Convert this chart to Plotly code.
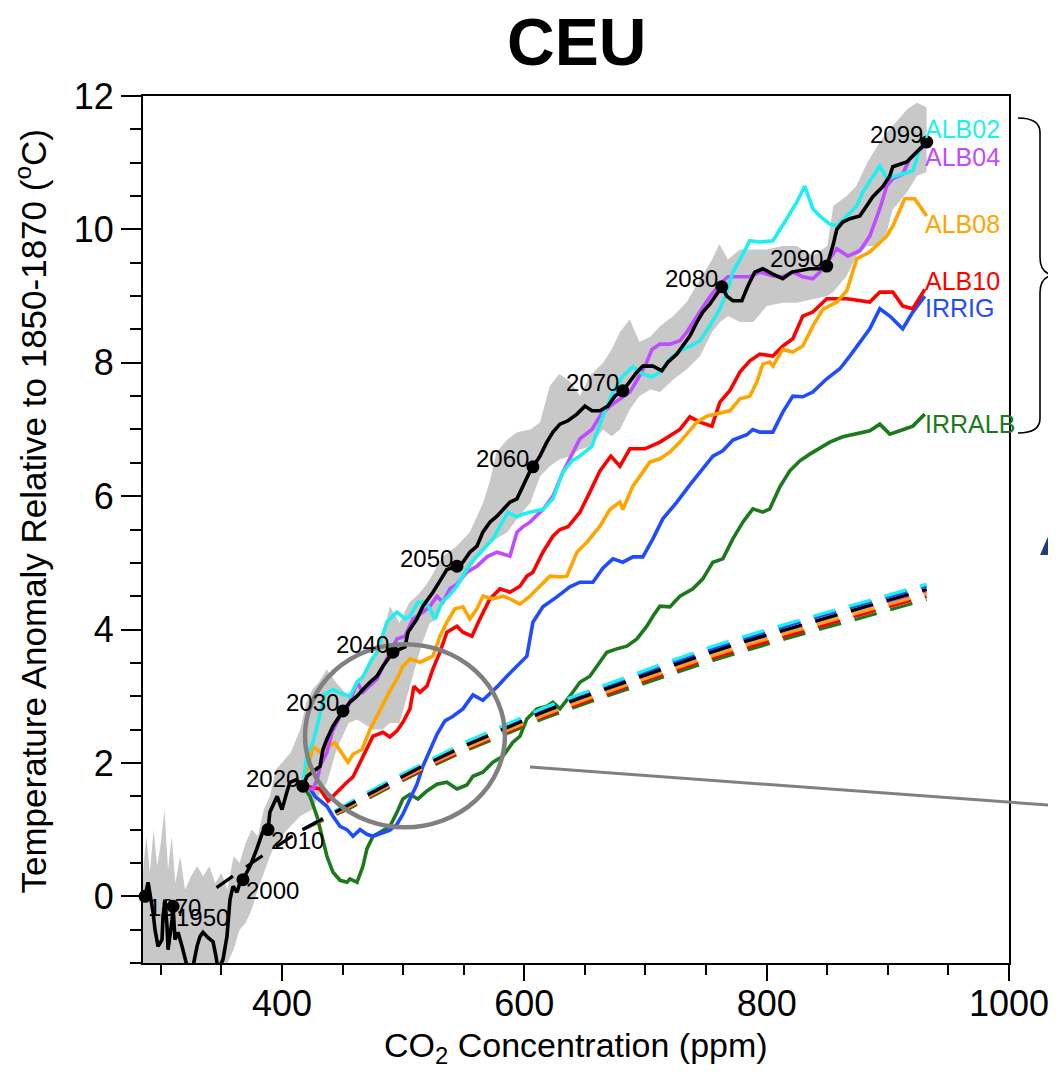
import plotly.graph_objects as go

# ---------------- data ----------------
# black: historical + RCP8.5 ensemble mean (CO2 ppm, temperature anomaly)
BLACK_CO2 = [287.0, 289.5, 293.6, 295.2, 297.7, 301.0, 301.8, 303.5, 305.1, 306.0, 309.3, 310.1, 311.7,
             314.2, 317.5, 320.0, 322.4, 326.6, 329.9, 332.4, 334.8, 339.0, 343.1, 345.5, 347.2, 351.3,
             354.6, 357.1, 359.6, 362.9, 365.4, 367.8, 373.6, 379.0, 384.0, 388.5, 390.0, 396.0, 400.0,
             404.0, 406.6, 412.0, 417.3, 420.6, 431.4, 433.8, 437.1, 442.1, 450.3, 456.1, 461.9, 466.8,
             472.6, 478.4, 483.3, 491.6, 501.5, 504.0, 511.4, 516.3, 524.6, 530.4, 536.1, 544.4, 549.3,
             555.1, 560.9, 565.8, 571.6, 577.4, 582.3, 588.1, 593.9, 596.4, 600.5, 604.6, 607.1, 612.9,
             618.6, 623.6, 629.4, 636.0, 643.4, 650.0, 655.8, 662.4, 669.0, 674.7, 681.3, 687.1, 692.9,
             697.8, 706.1, 713.5, 718.5, 725.9, 730.8, 736.6, 742.4, 747.3, 753.1, 758.9, 763.0, 767.1,
             772.1, 779.5, 784.5, 790.2, 796.8, 805.1, 813.3, 820.8, 827.4, 835.6, 843.9, 849.6, 854.6,
             857.9, 862.8, 868.6, 876.9, 882.6, 887.6, 895.8, 901.6, 904.1, 911.5, 915.6, 920.6, 926.4, 932.1]
BLACK_T = [0.00, 0.21, -0.24, -0.50, -0.75, -0.65, -0.30, -0.05, -0.45, -0.80, -0.35, -0.15, -0.65,
           -0.54, -0.75, -0.95, -1.10, -1.05, -0.75, -0.60, -0.54, -0.62, -0.68, -0.90, -1.10, -0.95,
           -0.60, -0.05, 0.15, 0.06, 0.21, 0.25, 0.45, 0.70, 0.96, 1.00, 1.26, 1.50, 1.30,
           1.56, 1.71, 1.75, 1.65, 1.80, 1.95, 2.20, 2.36, 2.55, 2.78, 2.91, 3.00, 3.10,
           3.21, 3.30, 3.45, 3.66, 3.74, 3.96, 4.16, 4.35, 4.56, 4.73, 4.90, 4.95, 5.01,
           5.16, 5.25, 5.46, 5.61, 5.70, 5.80, 5.91, 5.96, 6.06, 6.21, 6.37, 6.44, 6.60,
           6.81, 6.96, 7.08, 7.13, 7.23, 7.35, 7.28, 7.28, 7.35, 7.50, 7.58, 7.73, 7.86,
           7.95, 7.95, 7.88, 8.01, 8.13, 8.25, 8.40, 8.61, 8.76, 8.88, 9.03, 9.14, 9.00,
           8.93, 8.93, 9.15, 9.36, 9.41, 9.33, 9.26, 9.36, 9.38, 9.41, 9.41, 9.45, 9.75,
           10.00, 10.11, 10.16, 10.20, 10.35, 10.49, 10.64, 10.80, 10.94, 10.98, 11.01, 11.10, 11.21, 11.31]

# spread band around the black curve
BAND_CO2 = [285, 288, 291, 294, 297, 300, 303, 306, 309, 312, 316, 320, 325, 330, 335, 340, 345, 350,
            355, 360, 365, 370, 375, 380, 385, 390, 395, 400, 407, 415, 420, 425, 430, 437, 445, 455,
            462, 475, 483, 489, 497, 505, 511, 516, 522, 528, 533, 544, 555, 566, 572, 577, 586, 594,
            605, 613, 621, 629, 638, 646, 654, 665, 672, 679, 687, 695, 704, 712, 723, 734, 745, 755,
            761, 768, 778, 789, 800, 813, 825, 838, 850, 855, 866, 874, 883, 893, 899, 904, 916, 924, 932]
BAND_LO = [-1.3, -1.3, -1.3, -1.3, -1.3, -1.3, -1.3, -1.3, -1.3, -1.3, -1.3, -1.3, -1.3, -1.3, -1.3,
           -1.3, -1.3, -1.2, -1.0, -0.8, -0.5, -0.4, -0.2, 0.1, 0.35, 0.6, 0.8, 0.9, 1.05, 1.2, 1.25,
           1.3, 1.5, 1.7, 2.2, 2.6, 2.65, 2.5, 2.5, 2.6, 2.6, 3.1, 3.5, 3.81, 4.1, 4.15, 4.4, 4.6,
           4.9, 5.2, 5.3, 5.36, 5.46, 5.66, 5.9, 6.3, 6.45, 6.55, 6.6, 6.7, 6.75, 7.0, 6.9, 7.0, 7.3,
           7.5, 7.6, 7.56, 7.75, 7.9, 8.1, 8.46, 8.6, 8.7, 8.61, 8.61, 8.85, 8.9, 8.9, 8.95, 9.0,
           9.06, 9.3, 9.6, 9.75, 9.75, 9.96, 10.3, 10.56, 10.8, 10.86]
BAND_HI = [0.3, 0.9, 0.35, 1.0, 0.45, 0.8, 1.3, 0.4, 0.9, 0.2, 0.6, 0.1, 0.3, 0.45, 0.3, 0.45, 0.2,
           0.35, 0.1, 0.6, 0.5, 0.8, 1.0, 0.9, 1.3, 1.5, 1.9, 2.0, 2.15, 2.5, 2.9, 3.1, 3.2, 3.4, 3.2,
           3.0, 3.2, 3.6, 3.9, 4.35, 4.1, 4.4, 4.5, 4.6, 4.75, 4.95, 5.1, 5.25, 5.46, 5.9, 6.25, 6.66,
           6.85, 6.96, 7.0, 7.11, 7.65, 7.83, 7.71, 7.5, 7.8, 8.0, 8.2, 8.46, 8.65, 8.31, 8.39, 8.55,
           8.7, 8.91, 9.25, 9.55, 9.78, 9.55, 9.7, 9.7, 9.7, 9.75, 9.75, 9.6, 9.75, 10.35, 10.5, 10.65,
           11.0, 11.3, 11.45, 11.55, 11.8, 11.9, 11.83]

ALB02_CO2 = [417.3, 420.6, 425.6, 431.4, 435.5, 442.1, 450.3, 456.1, 461.9, 466.8, 474.3, 478.4, 486.6,
             489.1, 494.9, 501.5, 505.6, 512.2, 518.0, 522.1, 526.2, 532.0, 537.0, 544.4, 549.3, 555.1,
             560.9, 569.1, 574.1, 579.9, 586.5, 593.9, 598.8, 604.6, 615.3, 623.6, 631.8, 639.3, 645.9,
             655.8, 664.8, 673.1, 681.3, 689.6, 697.8, 705.3, 711.9, 720.1, 728.4, 736.6, 744.9, 753.1,
             761.4, 767.1, 772.1, 779.5, 786.1, 794.4, 805.1, 816.6, 824.9, 831.5, 838.1, 843.9, 852.1,
             857.9, 866.1, 874.4, 879.3, 887.6, 893.4, 899.1, 904.1, 915.6, 920.6, 923.9, 926.4, 930.5]
ALB02_T = [1.65, 2.13, 2.31, 2.76, 3.03, 3.10, 3.03, 3.00, 3.21, 3.29, 3.56, 3.66, 4.11,
           4.16, 4.26, 4.16, 4.20, 4.41, 4.41, 4.31, 4.16, 4.41, 4.49, 4.65, 4.80, 4.98,
           5.10, 5.25, 5.36, 5.55, 5.76, 5.69, 5.73, 5.76, 5.80, 5.96, 6.36, 6.53, 6.60,
           6.75, 7.20, 7.56, 7.80, 7.94, 7.83, 7.79, 7.86, 8.06, 8.18, 8.25, 8.33, 8.55,
           8.81, 9.06, 9.36, 9.60, 9.83, 9.81, 9.83, 10.16, 10.41, 10.65, 10.31, 10.20, 10.08,
           10.05, 10.20, 10.35, 10.56, 10.80, 10.95, 10.76, 10.79, 10.86, 10.88, 11.06, 11.21, 11.31]

ALB04_CO2 = [417.3, 425.6, 429.7, 431.4, 437.1, 441.3, 447.9, 453.6, 457.8, 461.9, 466.8, 478.4, 489.1,
             494.9, 501.5, 508.1, 516.3, 522.1, 527.9, 532.8, 538.6, 544.4, 552.6, 560.9, 569.1, 577.4,
             588.1, 593.9, 598.8, 604.6, 615.3, 623.6, 631.8, 640.1, 645.9, 655.8, 662.4, 670.6, 678.9,
             687.1, 693.7, 701.1, 705.3, 711.9, 720.1, 728.4, 734.1, 739.1, 746.5, 753.1, 761.4, 768.0,
             777.9, 786.1, 794.4, 805.1, 813.3, 821.6, 829.8, 838.1, 843.9, 852.1, 857.9, 867.0, 876.9,
             885.1, 893.4, 899.1, 904.1, 912.3, 918.1, 923.9, 930.5]
ALB04_T = [1.65, 1.60, 1.80, 1.95, 2.16, 2.46, 2.70, 2.80, 3.00, 3.21, 3.06, 3.26, 3.66,
           3.86, 3.90, 4.16, 4.26, 4.35, 4.50, 4.41, 4.61, 4.68, 4.86, 4.95, 5.09, 5.16,
           5.10, 5.46, 5.54, 5.61, 5.80, 6.00, 6.36, 6.66, 6.86, 7.00, 7.20, 7.35, 7.46,
           7.56, 7.76, 8.01, 8.20, 8.28, 8.28, 8.33, 8.46, 8.61, 8.81, 8.99, 9.18, 9.29,
           9.29, 9.29, 9.36, 9.30, 9.29, 9.36, 9.29, 9.26, 9.36, 9.56, 9.71, 9.60, 9.68,
           9.90, 10.31, 10.65, 10.76, 10.83, 11.06, 11.16, 11.25]

ALB08_CO2 = [417.3, 425.6, 431.4, 437.1, 443.7, 450.3, 454.5, 458.6, 466.0, 472.6, 480.9, 489.1, 494.9,
             499.8, 505.6, 513.9, 524.6, 530.4, 536.1, 542.7, 549.3, 555.1, 560.9, 565.8, 574.1, 582.3,
             588.1, 596.4, 604.6, 612.9, 621.1, 629.4, 635.1, 643.4, 651.6, 662.4, 670.6, 678.9, 681.3,
             689.6, 695.4, 703.6, 711.9, 720.1, 728.4, 736.6, 742.4, 750.6, 758.9, 769.6, 777.9, 786.1,
             791.9, 796.8, 802.6, 805.1, 813.3, 821.6, 829.8, 838.1, 846.3, 857.9, 866.1, 874.4, 885.1,
             893.4, 899.1, 904.1, 909.9, 914.0, 922.2, 926.4, 932.1]
ALB08_T = [1.65, 2.25, 2.16, 2.24, 2.30, 2.13, 2.01, 2.13, 2.20, 2.50, 2.80, 3.08, 3.26,
           3.45, 3.56, 3.51, 3.60, 3.90, 4.11, 4.31, 4.34, 4.16, 4.31, 4.50, 4.46, 4.50,
           4.46, 4.38, 4.50, 4.65, 4.80, 4.79, 4.80, 5.16, 5.31, 5.55, 5.80, 5.91, 5.80,
           6.15, 6.29, 6.51, 6.56, 6.66, 6.81, 6.98, 7.11, 7.20, 7.23, 7.28, 7.46, 7.50,
           7.71, 7.98, 8.01, 7.95, 8.20, 8.16, 8.25, 8.55, 8.80, 8.91, 9.08, 9.56, 9.66,
           9.81, 9.90, 10.05, 10.30, 10.46, 10.46, 10.35, 10.20]

ALB10_CO2 = [417.3, 423.1, 431.4, 438.0, 442.1, 447.9, 453.6, 458.6, 464.4, 470.1, 475.1, 483.3, 489.1,
             494.9, 499.8, 505.6, 508.9, 513.9, 519.6, 524.6, 530.4, 536.1, 544.4, 549.3, 556.8, 563.4,
             571.6, 579.9, 588.1, 596.4, 602.1, 607.1, 615.3, 623.6, 629.4, 636.0, 645.9, 654.1, 662.4,
             671.4, 678.9, 687.1, 699.5, 711.9, 720.1, 728.4, 736.6, 744.9, 754.8, 761.4, 769.6, 777.9,
             786.1, 794.4, 805.1, 813.3, 821.6, 829.8, 838.1, 849.6, 866.1, 885.1, 893.4, 904.1, 912.3,
             920.6, 930.5]
ALB10_T = [1.65, 1.64, 1.61, 1.43, 1.50, 1.61, 1.71, 1.79, 2.01, 2.21, 2.40, 2.46, 2.39,
           2.48, 2.61, 2.81, 3.15, 3.06, 3.15, 3.41, 3.66, 3.96, 4.05, 3.96, 3.90, 4.16,
           4.46, 4.61, 4.56, 4.65, 4.80, 4.86, 5.16, 5.40, 5.50, 5.54, 5.76, 6.06, 6.38,
           6.60, 6.45, 6.71, 6.71, 6.81, 6.90, 7.00, 7.19, 7.11, 7.05, 7.41, 7.58, 7.86,
           8.03, 8.13, 8.10, 8.25, 8.36, 8.70, 8.76, 8.96, 8.96, 8.91, 9.06, 9.06, 8.85,
           8.81, 9.10]

IRRIG_CO2 = [417.3, 423.1, 427.2, 433.0, 437.1, 442.1, 447.9, 453.6, 458.6, 464.4, 470.1, 475.1, 483.3,
             489.1, 494.9, 499.8, 505.6, 511.4, 516.3, 522.1, 527.9, 534.5, 541.1, 549.3, 557.6, 565.8,
             573.3, 577.4, 585.6, 593.9, 602.1, 607.1, 615.3, 626.9, 637.6, 645.9, 656.6, 664.8, 673.1,
             681.3, 689.6, 697.8, 706.1, 714.3, 725.9, 736.6, 747.3, 755.6, 763.8, 772.1, 783.6, 788.6,
             794.4, 805.1, 813.3, 821.6, 829.8, 838.1, 849.6, 860.4, 868.6, 876.9, 885.1, 893.4, 901.6,
             912.3, 920.6, 930.5]
IRRIG_T = [1.65, 1.62, 1.50, 1.41, 1.35, 1.20, 1.05, 1.00, 0.90, 1.00, 0.93, 0.90, 0.96,
           0.99, 1.08, 1.23, 1.46, 1.68, 1.95, 2.18, 2.43, 2.63, 2.70, 2.81, 3.02, 2.94,
           3.06, 3.14, 3.30, 3.45, 3.60, 4.11, 4.34, 4.49, 4.64, 4.71, 4.71, 4.92, 5.06,
           5.01, 5.09, 5.09, 5.36, 5.66, 5.91, 6.17, 6.42, 6.60, 6.68, 6.84, 6.92, 7.00,
           6.96, 6.96, 7.26, 7.50, 7.49, 7.56, 7.76, 7.91, 8.10, 8.31, 8.51, 8.81, 8.70,
           8.51, 8.76, 9.00]

IRRALB_CO2 = [417.3, 423.1, 428.9, 433.8, 437.1, 442.1, 447.9, 453.6, 456.1, 461.9, 466.8, 470.1, 475.1,
              480.9, 489.1, 494.9, 499.8, 505.6, 512.2, 519.6, 527.9, 536.1, 544.4, 552.6, 557.6, 565.8,
              574.1, 582.3, 590.6, 596.4, 602.1, 610.4, 618.6, 623.6, 629.4, 637.6, 645.9, 654.1, 662.4,
              668.1, 676.4, 684.6, 692.9, 701.1, 706.1, 711.9, 720.1, 728.4, 739.1, 747.3, 755.6, 763.8,
              772.1, 780.3, 788.6, 796.8, 802.6, 810.9, 819.1, 827.4, 835.6, 843.9, 852.1, 862.8, 874.4,
              885.1, 893.4, 901.6, 909.9, 920.6, 930.5]
IRRALB_T = [1.65, 1.50, 1.20, 0.86, 0.60, 0.36, 0.24, 0.21, 0.26, 0.21, 0.45, 0.71, 0.90,
            0.96, 1.05, 1.26, 1.46, 1.53, 1.46, 1.58, 1.68, 1.71, 1.61, 1.67, 1.80, 1.86,
            2.01, 2.10, 2.31, 2.40, 2.66, 2.81, 2.85, 2.91, 2.81, 3.00, 3.21, 3.30, 3.51,
            3.66, 3.71, 3.75, 3.86, 4.05, 4.20, 4.35, 4.34, 4.50, 4.61, 4.76, 5.01, 5.06,
            5.36, 5.61, 5.81, 5.76, 5.81, 6.14, 6.38, 6.53, 6.63, 6.72, 6.81, 6.89, 6.93,
            6.98, 7.08, 6.93, 6.98, 7.05, 7.23]

# dashed fits
BLACK_FIT_CO2 = [346, 375, 404, 417, 456, 487, 520, 551, 582, 615, 647, 681, 718, 749, 782, 827, 877, 932]
BLACK_FIT_T = [0.13, 0.50, 0.85, 1.00, 1.38, 1.68, 1.99, 2.26, 2.50, 2.76, 2.98, 3.20, 3.44, 3.63, 3.82,
               4.06, 4.32, 4.60]
FIT_CO2 = [417, 456, 487, 520, 551, 582, 615, 647, 681, 718, 749, 782, 827, 877, 932]
FIT_ALB02 = [1.00, 1.41, 1.72, 2.03, 2.31, 2.55, 2.82, 3.04, 3.27, 3.51, 3.71, 3.90, 4.14, 4.40, 4.68]
FIT_IRRIG = [1.00, 1.39, 1.70, 2.01, 2.28, 2.53, 2.79, 3.01, 3.24, 3.48, 3.67, 3.86, 4.11, 4.37, 4.65]
FIT_ALB04 = [1.00, 1.37, 1.67, 1.98, 2.25, 2.49, 2.75, 2.97, 3.19, 3.43, 3.62, 3.81, 4.05, 4.31, 4.58]
FIT_ALB08 = [1.00, 1.35, 1.65, 1.96, 2.22, 2.46, 2.71, 2.93, 3.15, 3.38, 3.57, 3.76, 4.00, 4.26, 4.54]
FIT_ALB10 = [1.00, 1.34, 1.64, 1.94, 2.20, 2.44, 2.69, 2.90, 3.12, 3.35, 3.54, 3.72, 3.96, 4.22, 4.50]
FIT_IRRALB = [1.00, 1.32, 1.62, 1.92, 2.18, 2.41, 2.66, 2.87, 3.08, 3.31, 3.50, 3.68, 3.92, 4.17, 4.45]

# year markers on the black curve
YEARS = ["1870", "1950", "2000", "2010", "2020", "2030", "2040", "2050", "2060", "2070", "2080", "2090", "2099"]
YEAR_CO2 = [287.0, 310.1, 367.8, 388.5, 417.3, 450.3, 491.6, 544.4, 607.1, 681.3, 763.0, 849.6, 932.1]
YEAR_T = [0.00, -0.15, 0.25, 1.00, 1.65, 2.78, 3.66, 4.95, 6.44, 7.58, 9.14, 9.45, 11.31]

SERIES = ["ALB02", "ALB04", "ALB08", "ALB10", "IRRIG", "IRRALB"]
COLORS = ["#1ef0f0", "#bf4dff", "#ffa500", "#ff0000", "#1f4cff", "#1c7a1c"]
LABEL_T = [11.50, 11.09, 10.08, 9.22, 8.82, 7.08]
X_TICKS = [400, 600, 800, 1000]
Y_TICKS = [0, 2, 4, 6, 8, 10, 12]

FONT = "Liberation Sans, Arial, Helvetica, sans-serif"

solid = {
    "ALB02": (ALB02_CO2, ALB02_T), "ALB04": (ALB04_CO2, ALB04_T), "ALB08": (ALB08_CO2, ALB08_T),
    "ALB10": (ALB10_CO2, ALB10_T), "IRRIG": (IRRIG_CO2, IRRIG_T), "IRRALB": (IRRALB_CO2, IRRALB_T),
}
fits = {"ALB02": FIT_ALB02, "ALB04": FIT_ALB04, "ALB08": FIT_ALB08, "ALB10": FIT_ALB10,
        "IRRIG": FIT_IRRIG, "IRRALB": FIT_IRRALB}
color_of = dict(zip(SERIES, COLORS))

fig = go.Figure()

# grey spread band
fig.add_trace(go.Scatter(x=BAND_CO2 + BAND_CO2[::-1], y=BAND_HI + BAND_LO[::-1], fill="toself",
                         fillcolor="#c8c8c8", line=dict(width=0), mode="lines", hoverinfo="skip"))

# coloured solid lines
for name in ["IRRALB", "IRRIG", "ALB10", "ALB08", "ALB04", "ALB02"]:
    xs, ys = solid[name]
    fig.add_trace(go.Scatter(x=xs, y=ys, mode="lines", line=dict(color=color_of[name], width=3.6)))

# dashed fits
DASH = "23px,14px"
for name in ["IRRALB", "ALB10", "ALB08", "ALB04", "IRRIG", "ALB02"]:
    fig.add_trace(go.Scatter(x=FIT_CO2, y=fits[name], mode="lines",
                             line=dict(color=color_of[name], width=3.2, dash=DASH)))
split = BLACK_FIT_CO2.index(417)
fig.add_trace(go.Scatter(x=BLACK_FIT_CO2[:split + 1], y=BLACK_FIT_T[:split + 1], mode="lines",
                         line=dict(color="black", width=3.2, dash="20px,16px")))
fig.add_trace(go.Scatter(x=BLACK_FIT_CO2[split:], y=BLACK_FIT_T[split:], mode="lines",
                         line=dict(color="black", width=3.2, dash=DASH)))

# black mean curve
fig.add_trace(go.Scatter(x=BLACK_CO2, y=BLACK_T, mode="lines", line=dict(color="black", width=3.6)))

# year markers
fig.add_trace(go.Scatter(x=YEAR_CO2, y=YEAR_T, mode="markers", cliponaxis=False,
                         marker=dict(color="black", size=13)))

annotations = []
for yr, xv, yv in zip(YEARS, YEAR_CO2, YEAR_T):
    if int(yr) <= 2010:
        annotations.append(dict(x=xv, y=yv, xref="x", yref="y", text=yr, showarrow=False,
                                xanchor="left", yanchor="middle", xshift=1, yshift=-11,
                                font=dict(size=24, color="black", family=FONT)))
    else:
        annotations.append(dict(x=xv, y=yv, xref="x", yref="y", text=yr, showarrow=False,
                                xanchor="right", yanchor="middle", xshift=-2, yshift=8,
                                font=dict(size=24, color="black", family=FONT)))

for name, ly in zip(SERIES, LABEL_T):
    annotations.append(dict(x=932, y=ly, xref="x", yref="y", text=name, showarrow=False,
                            xanchor="left", yanchor="middle", xshift=-4,
                            font=dict(size=25, color=color_of[name], family=FONT)))

# titles
annotations.append(dict(x=0.5, y=1.062, xref="paper", yref="paper", text="<b>CEU</b>", showarrow=False,
                        xanchor="center", yanchor="middle", font=dict(size=66, color="black", family=FONT)))
annotations.append(dict(x=-0.129, y=0.521, xref="paper", yref="paper",
                        text="Temperature Anomaly Relative to 1850-1870 (<sup>o</sup>C)", showarrow=False,
                        textangle=-90, xanchor="center", yanchor="middle",
                        font=dict(size=35, color="black", family=FONT)))
annotations.append(dict(x=0.5, y=-0.097, xref="paper", yref="paper",
                        text="CO<sub>2</sub> Concentration (ppm)", showarrow=False,
                        xanchor="center", yanchor="middle", font=dict(size=34, color="black", family=FONT)))

shapes = [
    # grey circle highlighting the divergence region
    dict(type="circle", xref="x", yref="y", x0=419, x1=584, y0=1.035, y1=3.78,
         line=dict(color="#808080", width=4.5), layer="above"),
    # grey pointer line running off to the right
    dict(type="line", xref="paper", yref="paper", x0=0.4469, y0=0.2261, x1=1.06, y1=0.1811,
         line=dict(color="#808080", width=3), layer="above"),
    # curly bracket on the right
    dict(type="path", xref="paper", yref="paper",
         path="M 1.0104,0.9746 Q 1.0358,0.9746 1.0358,0.9580 L 1.0358,0.8140 "
              "Q 1.0358,0.7935 1.0543,0.7935 Q 1.0358,0.7935 1.0358,0.7730 L 1.0358,0.6280 "
              "Q 1.0358,0.6113 1.0104,0.6113",
         line=dict(color="black", width=1.6)),
    # fragment of neighbouring panel
    dict(type="path", xref="paper", yref="paper",
         path="M 1.0358,0.4706 L 1.0473,0.4971 L 1.07,0.4971 L 1.07,0.4706 Z",
         fillcolor="#1f3d7a", line=dict(width=0)),
]

fig.update_layout(
    width=1056, height=1083, autosize=False,
    margin=dict(l=135, r=55, t=88, b=128),
    paper_bgcolor="white", plot_bgcolor="white",
    showlegend=False,
    font=dict(family=FONT, color="black"),
    annotations=annotations, shapes=shapes,
)
fig.update_xaxes(range=[285.3, 1000], tickmode="array", tickvals=X_TICKS,
                 ticks="outside", ticklen=16, tickwidth=2, tickcolor="black",
                 showline=True, linewidth=2, linecolor="black", mirror=True,
                 showgrid=False, zeroline=False, tickfont=dict(size=36, family=FONT),
                 ticklabelstandoff=-8,
                 minor=dict(tickmode="linear", tick0=0, dtick=50, ticks="outside", ticklen=10,
                            tickwidth=2, tickcolor="black", showgrid=False))
fig.update_yaxes(range=[-1, 12], tickmode="array", tickvals=Y_TICKS,
                 ticks="outside", ticklen=20, tickwidth=2, tickcolor="black",
                 showline=True, linewidth=2, linecolor="black", mirror=True,
                 showgrid=False, zeroline=False, tickfont=dict(size=36, family=FONT),
                 minor=dict(tickmode="linear", tick0=0, dtick=0.5, ticks="outside", ticklen=11,
                            tickwidth=2, tickcolor="black", showgrid=False))

fig.write_html("out.html")
